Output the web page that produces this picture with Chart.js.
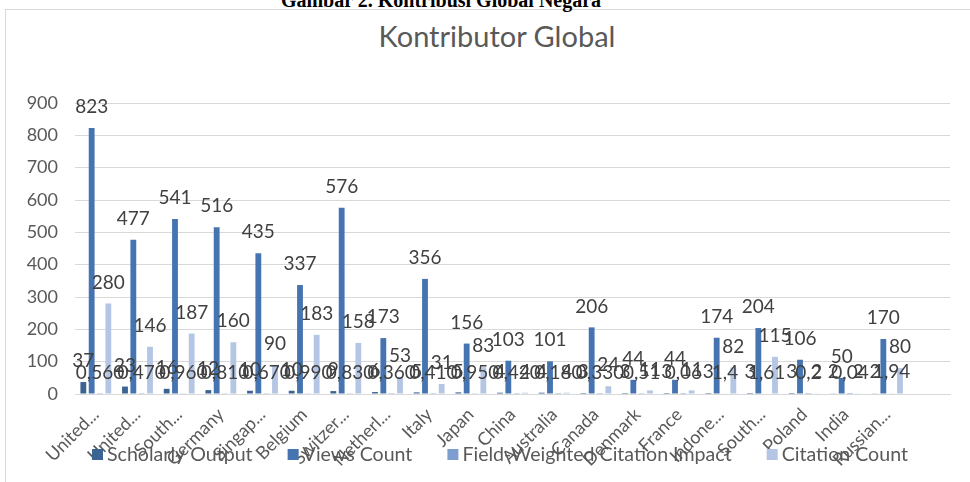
<!DOCTYPE html>
<html>
<head>
<meta charset="utf-8">
<script src="https://cdn.jsdelivr.net/npm/chart.js@4.4.1/dist/chart.umd.min.js"></script>
<style>
  html, body { margin: 0; padding: 0; background: #fff; overflow: hidden; }
  #wrap { position: relative; width: 970px; height: 482px; overflow: hidden; }
  #caption { position: absolute; top: -11px; left: 266px; width: 350px; text-align: center; line-height: 20px;
             font: bold 20px "Liberation Serif", "Times New Roman", serif; color: #000; white-space: nowrap; }
  #frame { position: absolute; left: 5px; top: 9px; width: 1000px; height: 600px; border: 1px solid #d9d9d9; }
  #title { position: absolute; top: 18px; left: 0; width: 994px; text-align: center; line-height: 29px;
           font: 29px Lato, sans-serif; color: #595959; }
  canvas { position: absolute; left: 0; top: 0; }
</style>
</head>
<body>
<div id="wrap">
  <div id="frame"></div>
  <div id="caption">Gambar 2. Kontribusi Global Negara</div>
  <div id="title">Kontributor Global</div>
  <canvas id="chart" width="970" height="482"></canvas>
</div>
<script>
// --- Data ---
const countries = ['United...', 'United...', 'South...', 'Germany', 'Singap...', 'Belgium', 'Switzer...', 'Netherl...',
  'Italy', 'Japan', 'China', 'Australia', 'Canada', 'Denmark', 'France', 'Indone...', 'South...', 'Poland', 'India',
  'Russian...', ''];
const scholarlyOutput = [37, 23, 16, 12, 10, 10, 9, 6, 5, 5, 4, 4, 3, 3, 3, 3, 3, 3, 2, 2, null];
const viewsCount = [823, 477, 541, 516, 435, 337, 576, 173, 356, 156, 103, 101, 206, 44, 44, 174, 204, 106, 50, 170, null];
const fwci = [0.56, 0.47, 0.96, 0.81, 0.67, 0.99, 0.83, 0.36, 0.41, 0.95, 0.42, 0.18, 0.33, 0.51, 0.06, 1.4, 1.61, 0.2, 0.04, 1.94, null];
const fwciText = ['0,560', '0,470', '0,960', '0,810', '0,670', '0,990', '0,830', '0,360', '0,410', '0,950', '0,420',
  '0,180', '0,330', '0,51', '0,06', '1,4', '1,61', '0,2', '0,04', '1,94', ''];
const citationCount = [280, 146, 187, 160, 90, 183, 158, 53, 31, 83, 4, 4, 24, 11, 11, 82, 115, 2, 2, 80, null];
const yTicks = [0, 100, 200, 300, 400, 500, 600, 700, 800, 900];

const textColor = '#595959';
const gridColor = '#d9d9d9';

// label angka di atas batang
const valueLabels = {
  id: 'valueLabels',
  afterDatasetsDraw(chart) {
    const ctx = chart.ctx;
    ctx.save();
    ctx.font = '19px Lato';
    ctx.fillStyle = '#404040';
    ctx.textAlign = 'center';
    ctx.textBaseline = 'middle';
    chart.data.datasets.forEach((ds, i) => {
      chart.getDatasetMeta(i).data.forEach((bar, j) => {
        const v = ds.data[j];
        if (v == null) return;
        const text = i === 2 ? fwciText[j] : String(v);
        ctx.fillText(text, bar.x, bar.y - 21);
      });
    });
    ctx.restore();
  }
};

// legenda di bawah (menimpa label sumbu x seperti aslinya)
const bottomLegend = {
  id: 'bottomLegend',
  afterDraw(chart) {
    const ctx = chart.ctx;
    ctx.save();
    ctx.font = '19.6px Lato';
    ctx.textBaseline = 'middle';
    let x = 92;
    const y = 455;
    chart.data.datasets.forEach(ds => {
      ctx.fillStyle = ds.backgroundColor;
      ctx.fillRect(x, y - 6, 11, 11);
      x += 15;
      ctx.fillStyle = textColor;
      ctx.fillText(ds.label, x, y);
      x += ctx.measureText(ds.label).width + 35;
    });
    ctx.restore();
  }
};

new Chart(document.getElementById('chart'), {
  type: 'bar',
  data: {
    labels: countries,
    datasets: [
      { label: 'Scholarly Output', data: scholarlyOutput, backgroundColor: '#3b6493' },
      { label: 'Views Count', data: viewsCount, backgroundColor: '#4674b0' },
      { label: 'Field-Weighted Citation Impact', data: fwci, backgroundColor: '#7f9ed0' },
      { label: 'Citation Count', data: citationCount, backgroundColor: '#b4c6e4' }
    ]
  },
  options: {
    responsive: false,
    animation: false,
    devicePixelRatio: 1,
    layout: { padding: { top: 103, right: 20, left: 0, bottom: 0 } },
    datasets: { bar: { categoryPercentage: 0.8, barPercentage: 0.7 } },
    scales: {
      x: {
        grid: { display: false },
        border: { color: gridColor },
        ticks: {
          autoSkip: false, minRotation: 45, maxRotation: 45,
          color: textColor, font: { family: 'Lato', size: 18 }, padding: 2
        },
        afterFit: s => { s.height = 88; }
      },
      y: {
        min: 0, max: 900,
        grid: { color: gridColor, drawTicks: false },
        border: { display: false },
        afterBuildTicks: s => { s.ticks = yTicks.map(v => ({ value: v })); },
        ticks: { color: textColor, font: { family: 'Lato', size: 18 }, padding: 17 },
        afterFit: s => { s.width = 75; }
      }
    },
    plugins: {
      legend: { display: false },
      title: { display: false },
      tooltip: { enabled: false }
    }
  },
  plugins: [valueLabels, bottomLegend]
});
</script>
</body>
</html>
